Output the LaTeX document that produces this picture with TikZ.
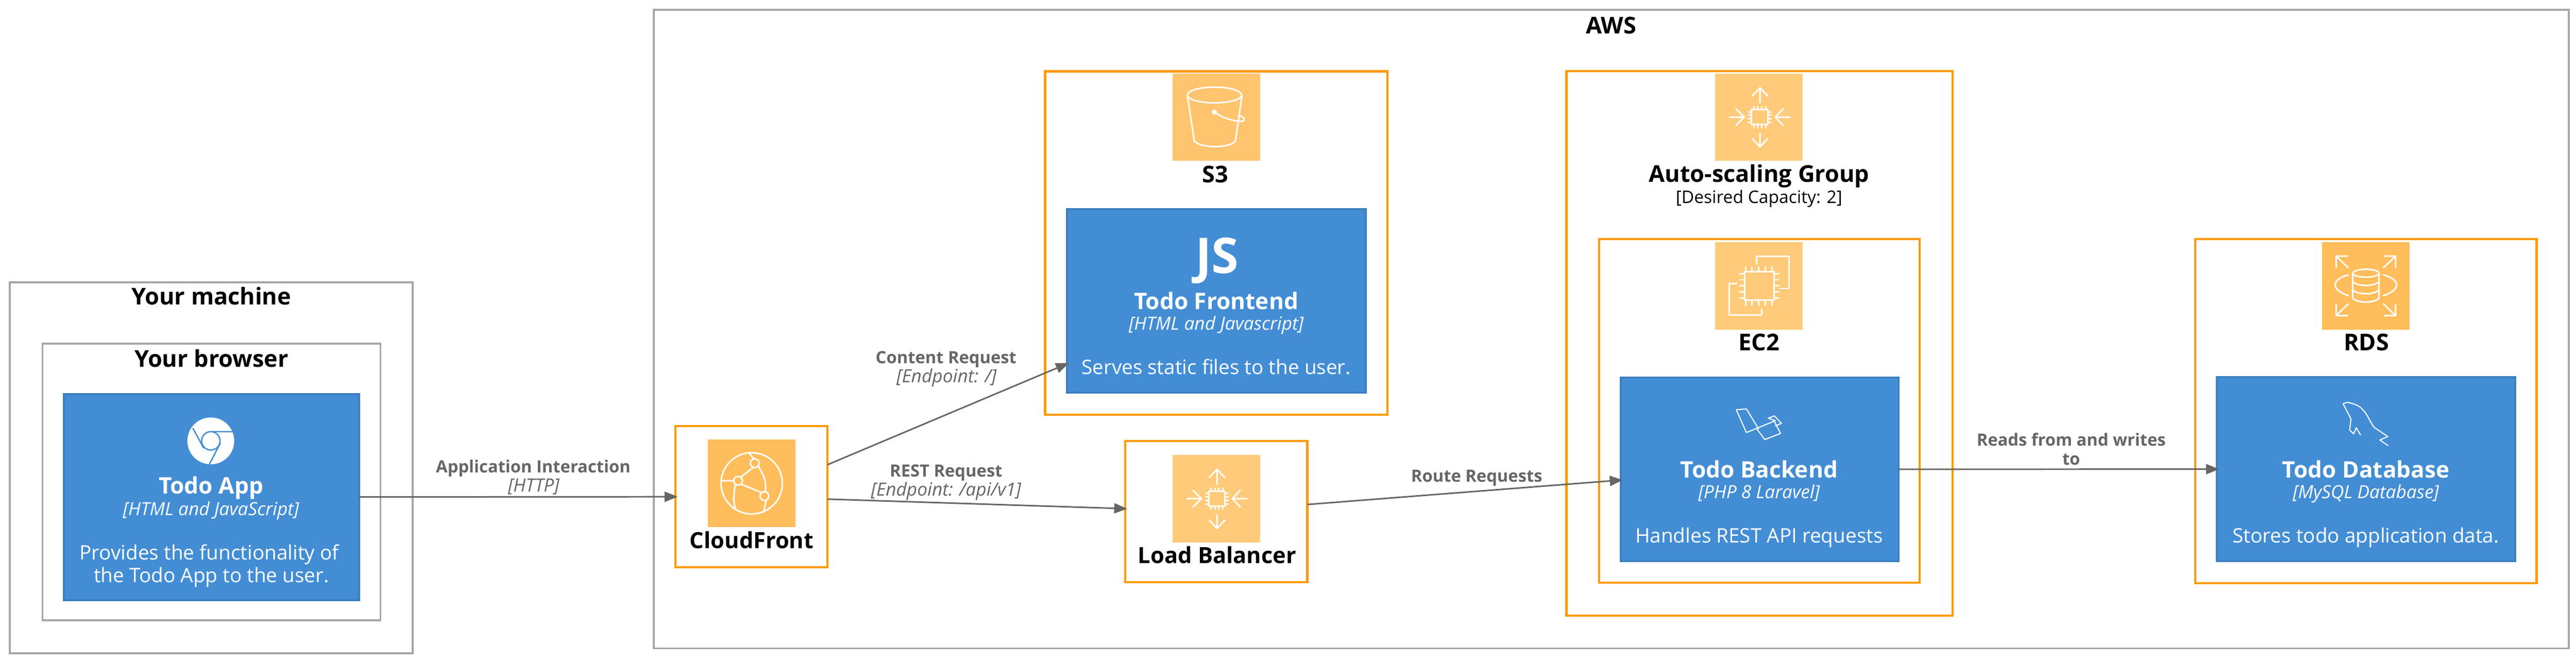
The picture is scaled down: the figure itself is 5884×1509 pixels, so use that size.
\documentclass[tikz,border=0pt]{standalone}
\usepackage{fontspec}
\setmainfont{Open Sans}
\usetikzlibrary{arrows.meta}
\definecolor{bluefill}{HTML}{438DD5}
\definecolor{blueedge}{HTML}{3C7FC0}
\definecolor{graybd}{HTML}{A6A6A6}
\definecolor{orangebd}{HTML}{FF9900}
\definecolor{linkgray}{HTML}{666666}
\definecolor{iconA}{HTML}{FFBD5B}
\definecolor{iconB}{HTML}{FFC46E}
\definecolor{iconC}{HTML}{FFCB7B}
\newcommand{\rbox}[6]{\node[#6,minimum width={(#4-#2)*0.2pt},minimum height={(#5-#3)*0.2pt}] (#1) at ({(#2+#4)/2},{(#3+#5)/2}) {};}
\newcommand{\tx}[5]{\node[#5] (#1) at (#2,#3) {#4};}
\tikzset{
  px/.style={line width=#1*0.2pt},
  plainbox/.style={rectangle,inner sep=0pt,outer sep=0pt},
  graybox/.style={plainbox,draw=graybd,fill=white,px=4.5},
  orangebox/.style={plainbox,draw=orangebd,fill=white,px=5},
  bluebox/.style={plainbox,draw=blueedge,fill=bluefill,px=4.5},
  iconA/.style={plainbox,fill=iconA},
  iconB/.style={plainbox,fill=iconB},
  iconC/.style={plainbox,fill=iconC},
  txt/.style={anchor=base,inner sep=0pt,outer sep=0pt},
  titletxt/.style={txt,text=black,font=\fontsize{10.6}{12}\selectfont\bfseries},
  compacttxt/.style={txt,text=black,font=\fontsize{10.2}{12}\selectfont\bfseries},
  smallblack/.style={txt,text=black,font=\fontsize{7.9}{9}\selectfont},
  nametxt/.style={txt,text=white,font=\fontsize{10.4}{12}\selectfont\bfseries},
  techtxt/.style={txt,text=white,font=\fontsize{8.3}{10}\selectfont\itshape},
  desctxt/.style={txt,text=white,font=\fontsize{9.1}{11}\selectfont},
  jstxt/.style={txt,text=white,font=\fontsize{22.5}{26}\selectfont\bfseries},
  linktxt/.style={txt,text=linkgray,font=\fontsize{7.7}{9}\selectfont\bfseries},
  linktech/.style={txt,text=linkgray,font=\fontsize{8.3}{10}\selectfont\itshape},
  link/.style={draw=linkgray,px=3.5,shorten >=-1pt,-{Triangle[length=6pt,width=4.6pt,fill=linkgray]}},
  ico/.style={draw=white,px=3.5,line cap=round,line join=round},
}
\begin{document}
\begin{tikzpicture}[x=0.2pt,y=-0.2pt]
\useasboundingbox (0,0) rectangle (5884,1509);
% boundaries
\rbox{machine}{22}{645}{943}{1492}{graybox}
\rbox{browser}{97}{785}{869}{1417}{graybox}
\rbox{aws}{1493}{22}{5867}{1481}{graybox}
\rbox{s3}{2387}{163}{3169}{947}{orangebox}
\rbox{asg}{3578}{162}{4460}{1406}{orangebox}
\rbox{ec2}{3653}{546}{4385}{1331}{orangebox}
\rbox{rds}{5014}{546}{5794}{1332}{orangebox}
\rbox{cf}{1543}{973}{1890}{1296}{orangebox}
\rbox{lb}{2570}{1007}{2986}{1330}{orangebox}
% containers
\rbox{app}{146}{900}{820}{1371}{bluebox}
\rbox{frontend}{2437}{478}{3120}{897}{bluebox}
\rbox{backend}{3702}{862}{4337}{1282}{bluebox}
\rbox{database}{5064}{861}{5745}{1282}{bluebox}
% icon tiles
\rbox{cficon}{1617}{1004}{1817}{1204}{iconA}
\rbox{lbicon}{2678}{1039}{2878}{1239}{iconC}
\rbox{s3icon}{2678}{168}{2878}{367}{iconB}
\rbox{asgicon}{3918}{168}{4118}{367}{iconC}
\rbox{ec2icon}{3918}{553}{4118}{753}{iconC}
\rbox{rdsicon}{5304}{553}{5504}{753}{iconA}
% titles
\tx{tmachine}{483}{696}{Your machine}{titletxt}
\tx{tbrowser}{483}{838}{Your browser}{titletxt}
\tx{taws}{3680}{77}{AWS}{titletxt}
\tx{ts3}{2776}{417}{S3}{titletxt}
\tx{tasg}{4018}{416}{Auto-scaling Group}{titletxt}
\tx{tasgd}{4018}{464}{[Desired Capacity: 2]}{smallblack}
\tx{tec2}{4018}{801}{EC2}{titletxt}
\tx{trds}{5405}{801}{RDS}{titletxt}
\tx{tcf}{1717}{1253}{CloudFront}{compacttxt}
\tx{tlb}{2780}{1287}{Load Balancer}{compacttxt}
% container texts
\tx{appn}{482}{1128}{Todo App}{nametxt}
\tx{appt}{482}{1177}{[HTML and JavaScript]}{techtxt}
\tx{appd}{478}{1278}{Provides the functionality of}{desctxt}
\tx{appe}{483}{1330}{the Todo App to the user.}{desctxt}
\tx{js}{2780}{624}{JS}{jstxt}
\tx{fen}{2778}{707}{Todo Frontend}{nametxt}
\tx{fet}{2778}{754}{[HTML and Javascript]}{techtxt}
\tx{fed}{2778}{855}{Serves static files to the user.}{desctxt}
\tx{ben}{4018}{1091}{Todo Backend}{nametxt}
\tx{bet}{4018}{1138}{[PHP 8 Laravel]}{techtxt}
\tx{bed}{4018}{1240}{Handles REST API requests}{desctxt}
\tx{dbn}{5404}{1092}{Todo Database}{nametxt}
\tx{dbt}{5404}{1139}{[MySQL Database]}{techtxt}
\tx{dbd}{5404}{1240}{Stores todo application data.}{desctxt}
% link labels
\tx{l1}{1218}{1080}{Application Interaction}{linktxt}
\tx{l1t}{1219}{1123}{[HTTP]}{linktech}
\tx{l2}{2161}{830}{Content Request}{linktxt}
\tx{l2t}{2162}{874}{[Endpoint: /]}{linktech}
\tx{l3}{2161}{1089}{REST Request}{linktxt}
\tx{l3t}{2161}{1133}{[Endpoint: /api/v1]}{linktech}
\tx{l4}{3373}{1101}{Route Requests}{linktxt}
\tx{l5}{4731}{1018}{Reads from and writes}{linktxt}
\tx{l5b}{4731}{1062}{to}{linktxt}
% Chrome icon
\begin{scope}[shift={(481.5,1007)}]
  \fill[white] (0,0) circle (53.5);
  \draw[bluefill,px=3] (0,0) circle (21);
  \draw[bluefill,px=3] (51,-21) -- (1,-21) (-41,-29) -- (-16,17) (-3,53) -- (22,4.5);
\end{scope}
% CloudFront icon
\begin{scope}[shift={(1717,1104)},ico]
  \draw (0,0) circle (70);
  \draw (7,-46) circle (10) (-31,-6) circle (10) (29,29) circle (10);
  \draw (3,-36) -- (-25,-14) (-24,2) -- (22,21);
  \draw (15,-39) .. controls (30,-15) and (34,0) .. (31,19);
  \draw (-68,-6) -- (-41,-6) (-37,2) .. controls (-42,25) and (-42,45) .. (-37,59);
  \draw (5,-56) -- (-6,-69) (33,39) -- (27,66);
\end{scope}
% S3 icon
\begin{scope}[shift={(2778,267)},ico]
  \draw (-4,-50) ellipse (62 and 18);
  \draw (-66,-50) -- (-50,55) .. controls (-38,72) and (32,72) .. (44,55) -- (59,-50);
  \fill[white] (-4,-11) circle (6);
  \draw (-4,-11) .. controls (15,3) and (40,10) .. (57,10) .. controls (68,10) and (66,0) .. (52,-3);
\end{scope}
% auto-scaling icons
\foreach \cx/\cy in {4018/267.5,2778/1139}{
\begin{scope}[shift={(\cx,\cy)},ico]
  \draw (-17,-17) rectangle (20,17);
  \foreach \k in {-13,-4,5,14}{\draw (\k+1,-17) -- (\k+1,-24) (\k+1,17) -- (\k+1,24);}
  \foreach \k in {-12,-4,4,12}{\draw (-17,\k) -- (-24,\k) (20,\k) -- (27,\k);}
  \draw (2,-32) -- (2,-67) (-16,-48) -- (2,-67) -- (20,-48);
  \draw (2,37) -- (2,68) (-16,49) -- (2,68) -- (20,49);
  \draw (-67,0) -- (-34,0) (-53,-19) -- (-34,0) -- (-53,19);
  \draw (70,0) -- (37,0) (55,-19) -- (37,0) -- (55,19);
\end{scope}}
% EC2 icon
\begin{scope}[shift={(4018,653)},ico]
  \draw (-33,-32) rectangle (34,33);
  \foreach \k in {-30,-16,-1,14,29}{\draw (\k,-32) -- (\k,-43) (\k,33) -- (\k,44);}
  \foreach \k in {-28,-14,0,14,28}{\draw (-33,\k) -- (-44,\k) (34,\k) -- (45,\k);}
  \draw (-6,-50) -- (-6,-67) -- (68,-67) -- (68,6) -- (47,6);
  \draw (-51,-5) -- (-68,-5) -- (-68,67) -- (6,67) -- (6,53);
\end{scope}
% RDS icon
\begin{scope}[shift={(5404,653)},ico]
  \draw (0,-29) ellipse (30 and 9);
  \draw (-30,-29) -- (-30,28) .. controls (-20,40) and (20,40) .. (30,28) -- (30,-29);
  \draw (-30,-10) .. controls (-20,2) and (20,2) .. (30,-10);
  \draw (-30,9) .. controls (-20,21) and (20,21) .. (30,9);
  \draw (-40,-25) .. controls (-80,-15) and (-80,10) .. (-40,22);
  \draw (40,-25) .. controls (80,-15) and (80,10) .. (40,22);
  \foreach \sx/\sy in {-1/-1,1/-1,-1/1,1/1}{
    \draw (\sx*40,\sy*41) -- (\sx*68,\sy*68) (\sx*42,\sy*68) -- (\sx*68,\sy*68) -- (\sx*68,\sy*42);}
\end{scope}
% Laravel icon
\begin{scope}[shift={(4017,969)},px=2.5,line join=round]
  \draw[white] (-28,19) -- (-51,-33) -- (-28,-35) -- (0,11) (-28,19) -- (38,-8) -- (22,-14) -- (36,-19) -- (52,-2) -- (38,4);
  \draw[white] (-4,11) -- (14,35) -- (50,21) -- (36,-6);
\end{scope}
% MySQL icon
\begin{scope}[shift={(5403,968)},px=2.5,line join=round]
  \draw[white] (-11,26) -- (-21,9) -- (-27,23) -- (-36,14) -- (-33,-11) -- (-51,-46) -- (-42,-49) .. controls (-24,-46) and (-12,-40) .. (-6,-32) .. controls (6,-20) and (12,0) .. (21,9) -- (51,29) -- (33,37) -- (52,50);
\end{scope}
% connectors
\draw[link] (app) -- (cf);
\draw[link] (cf) -- (frontend);
\draw[link] (cf) -- (lb);
\draw[link] (lb) -- (backend);
\draw[link] (backend) -- (database);
\end{tikzpicture}
\end{document}
